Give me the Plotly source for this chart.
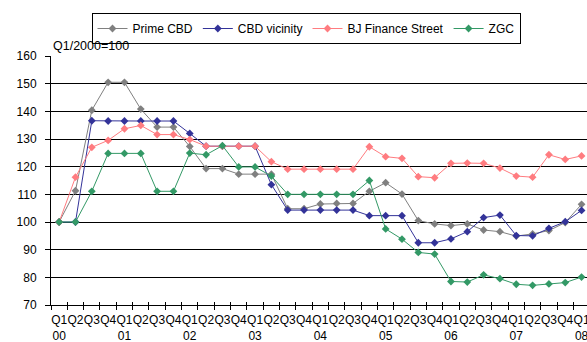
import plotly.graph_objects as go

# Quarterly rental index by submarket, Q1/2000 = 100
years = ["00", "01", "02", "03", "04", "05", "06", "07", "08"]
quarters = ["Q1", "Q2", "Q3", "Q4"]

prime_cbd = [100.0, 111.3, 140.4, 150.5, 150.5, 140.8, 134.3, 134.3, 127.3, 119.3, 119.3,
             117.3, 117.3, 117.3, 104.8, 104.8, 106.5, 106.7, 106.7, 111.1, 114.2, 110.1,
             100.5, 99.3, 98.7, 99.3, 97.1, 96.5, 94.9, 95.7, 96.9, 99.8, 106.4]
cbd_vicinity = [100.0, 100.0, 136.6, 136.5, 136.5, 136.5, 136.5, 136.5, 132.0, 127.4, 127.4,
                127.4, 127.4, 113.5, 104.3, 104.3, 104.3, 104.3, 104.3, 102.3, 102.3, 102.3,
                92.5, 92.5, 93.9, 96.5, 101.6, 102.5, 95.1, 95.0, 97.7, 100.1, 104.2]
bj_finance = [100.0, 116.2, 127.0, 129.5, 133.7, 134.9, 131.6, 131.6, 129.8, 127.4, 127.4,
              127.4, 127.4, 121.8, 119.1, 119.1, 119.1, 119.1, 119.1, 127.2, 123.6, 123.0,
              116.4, 116.0, 121.2, 121.3, 121.2, 119.5, 116.6, 116.2, 124.3, 122.6, 123.9]
zgc = [100.0, 100.0, 111.1, 124.8, 124.8, 124.8, 111.1, 111.1, 124.9, 124.3, 127.6,
       119.9, 119.9, 116.6, 110.0, 110.0, 110.0, 110.0, 110.0, 115.0, 97.5, 93.8,
       89.0, 88.4, 78.5, 78.3, 80.9, 79.5, 77.5, 77.1, 77.6, 78.1, 80.1]

series = [
    ("Prime CBD", prime_cbd, "#808080"),
    ("CBD vicinity", cbd_vicinity, "#333399"),
    ("BJ Finance Street", bj_finance, "#FF7C80"),
    ("ZGC", zgc, "#339966"),
]

n = len(prime_cbd)
xs = list(range(n))
tick_text = []
for i in xs:
    q = quarters[i % 4]
    tick_text.append(f"{q}<br>{years[i // 4]}" if i % 4 == 0 else q)
boundaries = [i - 0.5 for i in range(n + 1)]

FONT = "Liberation Sans, Arial, sans-serif"
W, H = 587, 342
ML, MT, MB = 51, 56, 37
step = 16.325
xr = [-0.5, -0.5 + (W - ML) / step]

fig = go.Figure()
for name, vals, color in series:
    fig.add_trace(go.Scatter(
        x=xs, y=vals, name=name, mode="lines+markers",
        line=dict(color=color, width=1),
        marker=dict(symbol="diamond", size=6, color=color),
    ))

# helper traces so the overlaid tick axes get drawn
for ax in ("x2", "x3"):
    fig.add_trace(go.Scatter(x=[None], y=[None], xaxis=ax, yaxis="y",
                             showlegend=False, hoverinfo="skip"))

fig.update_layout(
    width=W, height=H,
    margin=dict(l=ML, r=0, t=MT, b=MB),
    paper_bgcolor="white", plot_bgcolor="white",
    font=dict(family=FONT, size=12, color="black"),
    showlegend=True,
    legend=dict(
        orientation="h", x=(306 - ML) / (W - ML), xanchor="center",
        y=(H - MB - 13) / (H - MT - MB), yanchor="top",
        bordercolor="black", borderwidth=1, bgcolor="white",
        font=dict(family=FONT, size=12, color="black"),
        itemwidth=30, tracegroupgap=0,
    ),
    xaxis=dict(
        range=xr, tickmode="array", tickvals=xs, ticktext=tick_text,
        ticks="", showgrid=False, zeroline=False, tickangle=0,
        showline=True, linecolor="black", linewidth=1,
        tickfont=dict(family=FONT, size=12, color="black"),
        ticklabeloverflow="allow", ticklabelstandoff=4, automargin=False,
    ),
    xaxis2=dict(
        overlaying="x", anchor="y", side="bottom", range=xr,
        tickmode="array", tickvals=boundaries, ticks="outside", ticklen=4,
        tickcolor="black", tickwidth=1, showticklabels=False,
        showgrid=False, zeroline=False, showline=False, automargin=False,
    ),
    xaxis3=dict(
        overlaying="x", anchor="y", side="bottom", range=xr,
        tickmode="array", tickvals=boundaries, ticks="inside", ticklen=3,
        tickcolor="black", tickwidth=1, showticklabels=False,
        showgrid=False, zeroline=False, showline=False, automargin=False,
    ),
    yaxis=dict(
        range=[70, 160], tickmode="linear", tick0=70, dtick=10,
        ticks="outside", ticklen=5, tickcolor="black", tickwidth=1,
        showgrid=True, gridcolor="black", gridwidth=1,
        zeroline=False, showline=True, linecolor="black", linewidth=1,
        tickfont=dict(family=FONT, size=12, color="black"),
        ticklabelstandoff=6, automargin=False,
    ),
    annotations=[dict(
        text="Q1/2000=100", xref="paper", yref="paper",
        x=0.0, xanchor="left", y=(H - MB - 46) / (H - MT - MB), yanchor="middle",
        showarrow=False, font=dict(family=FONT, size=12.5, color="black"),
    )],
)

fig.write_html("out.html")
